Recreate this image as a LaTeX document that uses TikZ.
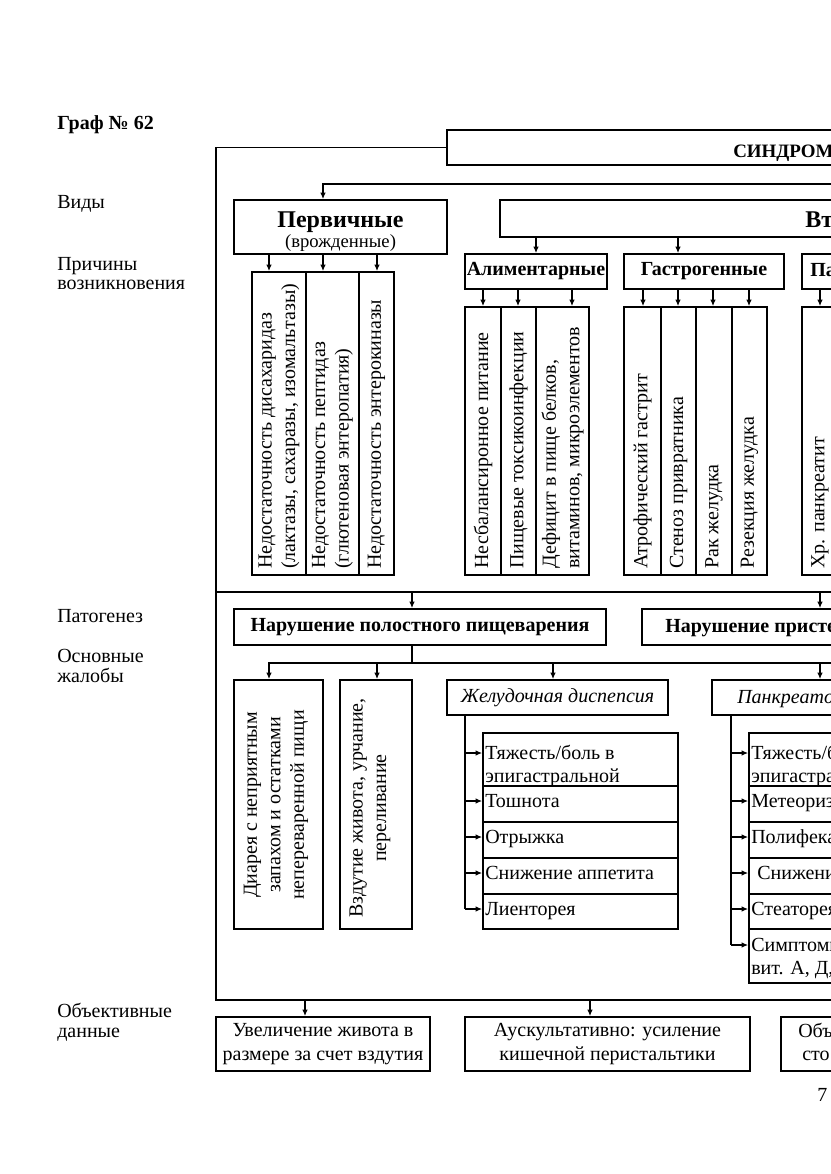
\documentclass[tikz,border=0pt]{standalone}
\usepackage{fontspec}
\setmainfont{Liberation Serif}
\usetikzlibrary{arrows.meta,fit}
\begin{document}
\begin{tikzpicture}[x=0.75pt,y=-0.75pt,
  font=\fontsize{15}{17.6}\selectfont,
  bx/.style={draw,line width=1.2pt,inner sep=0pt},
  ln/.style={line width=1.2pt},
  arr/.style={line width=1.2pt,-{Latex[length=5pt,width=4.2pt]}},
  lbl/.style={anchor=base west,inner sep=0pt},
  vt/.style={rotate=90,anchor=west,align=left,inner sep=0pt},
  vc/.style={rotate=90,anchor=center,align=center,inner sep=0pt},
  hd/.style={font=\fontsize{15}{17.6}\selectfont\bfseries,inner sep=0pt},
  hdw/.style={font=\fontsize{15}{17.6}\selectfont\bfseries,inner sep=0pt},
  big/.style={font=\fontsize{18}{20}\selectfont\bfseries,inner sep=0pt},
  itl/.style={font=\fontsize{15}{17.6}\selectfont\itshape,inner sep=0pt}
]
\useasboundingbox (0,0) rectangle (831,1174);
\clip (0,0) rectangle (831,1174);
\fill[white] (0,0) rectangle (831,1174);

% ---------- left labels ----------
\node[lbl,font=\fontsize{15}{17.6}\selectfont\bfseries] (title) at (57,129) {Граф № 62};
\node[lbl] (L1) at (57,208) {Виды};
\node[lbl] (L2a) at (57,270) {Причины};
\node[lbl] (L2b) at (57,289) {возникновения};
\node[lbl] (L3) at (57,622) {Патогенез};
\node[lbl] (L4a) at (57,662) {Основные};
\node[lbl] (L4b) at (57,682) {жалобы};
\node[lbl] (L5a) at (57,1017) {Объективные};
\node[lbl] (L5b) at (57,1037) {данные};

% ---------- top ----------
\node[bx,fit={(447,130)(1300,165)}] (S) {};
\node[anchor=base west,inner sep=0pt,font=\fontsize{14.2}{17}\selectfont\bfseries] (St) at (733,157) {СИНДРОМ};

\coordinate (fTL) at (216,148);
\coordinate (fBL) at (216,1000);
\coordinate (fBR) at (1300,1000);
\draw[ln] (S.west) -- (S.west -| fTL) -- (fBL) -- (fBR);
\coordinate (dL) at (216,592);
\coordinate (dR) at (1300,592);
\draw[ln] (dL) -- (dR);

\node[bx,fit={(234,200)(447,254)}] (P) {};
\node[big,anchor=base] (Pt1) at (340.5,227) {Первичные};
\node[inner sep=0pt,anchor=base,font=\fontsize{14}{17}\selectfont] (Pt2) at (340.5,247) {(врожденные)};

\node[bx,fit={(500,200)(1300,237)}] (V) {};
\node[big,anchor=base west] (Vt) at (805,227) {Вторичные};

\coordinate (b1) at (323,184);
\draw[arr] (S.south) |- (b1) -- (b1 |- P.north);
\draw[arr] (S.south) -- (S.south |- V.north);

% ---------- primary causes ----------
\node[bx,fit={(252,272)(306,575)}] (c1) {};
\node[bx,fit={(306,272)(359,575)}] (c2) {};
\node[bx,fit={(359,272)(394,575)}] (c3) {};
\node[vt] (c1t) at (279,569) {Недостаточность дисахаридаз\\(лактазы, сахаразы, изомальтазы)};
\node[vt] (c2t) at (332.5,569) {Недостаточность пептидаз\\(глютеновая энтеропатия)};
\node[vt] (c3t) at (376.5,569) {Недостаточность энтерокиназы};
\coordinate (ax1) at (269,0);
\coordinate (ax2) at (323,0);
\coordinate (ax3) at (377,0);
\draw[arr] (P.south -| ax1) -- (c1.north -| ax1);
\draw[arr] (P.south -| ax2) -- (c2.north -| ax2);
\draw[arr] (P.south -| ax3) -- (c3.north -| ax3);

% ---------- secondary groups ----------
\node[bx,fit={(465,254)(607,289)}] (A) {};
\node[hd] (At) at (A.center) {Алиментарные};
\node[bx,fit={(624,254)(784,289)}] (G) {};
\node[hd] (Gt) at (G.center) {Гастрогенные};
\node[bx,fit={(802,254)(1300,289)}] (Pa) {};
\node[hd,anchor=base west] (Pat) at (810,276) {Панкреатогенные};
\coordinate (gx) at (678,0);
\draw[arr] (V.south -| A.north) -- (A.north);
\draw[arr] (V.south -| gx) -- (G.north -| gx);

% alimentary columns
\node[bx,fit={(465,307)(501,575)}] (a1) {};
\node[bx,fit={(501,307)(536,575)}] (a2) {};
\node[bx,fit={(536,307)(589,575)}] (a3) {};
\node[vt] (a1t) at (483,569) {Несбалансиронное питание};
\node[vt] (a2t) at (518.5,569) {Пищевые токсикоинфекции};
\node[vt] (a3t) at (562.5,569) {Дефицит в пище белков,\\витаминов, микроэлементов};
\coordinate (ay1) at (483,0);
\coordinate (ay2) at (518,0);
\coordinate (ay3) at (572,0);
\draw[arr] (A.south -| ay1) -- (a1.north -| ay1);
\draw[arr] (A.south -| ay2) -- (a2.north -| ay2);
\draw[arr] (A.south -| ay3) -- (a3.north -| ay3);

% gastrogenic columns
\node[bx,fit={(624,307)(661,575)}] (g1) {};
\node[bx,fit={(661,307)(696,575)}] (g2) {};
\node[bx,fit={(696,307)(732,575)}] (g3) {};
\node[bx,fit={(732,307)(767,575)}] (g4) {};
\node[vt] (g1t) at (642.5,569) {Атрофический гастрит};
\node[vt] (g2t) at (678.5,569) {Стеноз привратника};
\node[vt] (g3t) at (714,569) {Рак желудка};
\node[vt] (g4t) at (749.5,569) {Резекция желудка};
\coordinate (gy1) at (643,0);
\coordinate (gy2) at (678,0);
\coordinate (gy3) at (713,0);
\coordinate (gy4) at (749,0);
\draw[arr] (G.south -| gy1) -- (g1.north -| gy1);
\draw[arr] (G.south -| gy2) -- (g2.north -| gy2);
\draw[arr] (G.south -| gy3) -- (g3.north -| gy3);
\draw[arr] (G.south -| gy4) -- (g4.north -| gy4);

% pancreatogenic columns
\node[bx,fit={(802,307)(838,575)}] (p1) {};
\node[bx,fit={(838,307)(1300,575)}] (p2) {};
\node[vt] (p1t) at (820,569) {Хр. панкреатит};
\coordinate (py1) at (820,0);
\draw[arr] (Pa.south -| py1) -- (p1.north -| py1);

% ---------- pathogenesis ----------
\node[bx,fit={(234,609)(606,645)}] (N1) {};
\node[hdw] (N1t) at (N1.center) {Нарушение полостного пищеварения};
\node[bx,fit={(642,609)(1300,645)}] (N2) {};
\node[hdw,anchor=base west] (N2t) at (665,632) {Нарушение пристеночного пищеварения};
\coordinate (d1) at (412,592);
\coordinate (d2) at (820,592);
\draw[arr] (d1) -- (d1 |- N1.north);
\draw[arr] (d2) -- (d2 |- N2.north);

% ---------- complaints ----------
\coordinate (h1) at (269,663);
\coordinate (h2) at (1300,663);
\coordinate (hN) at (412,663);
\coordinate (h3) at (377,663);
\coordinate (h4) at (553,663);
\coordinate (h5) at (820,663);
\node[bx,fit={(234,680)(323,929)}] (D) {};
\node[bx,fit={(340,680)(412,929)}] (B) {};
\node[bx,fit={(447,680)(668,715)}] (Zh) {};
\node[bx,fit={(712,680)(1300,715)}] (Pk) {};
\draw[ln] (N1.south -| hN) -- (hN);
\draw[arr] (h2) -- (h1) -- (h1 |- D.north);
\draw[arr] (h3) -- (h3 |- B.north);
\draw[arr] (h4) -- (h4 |- Zh.north);
\draw[arr] (h5) -- (h5 |- Pk.north);

\node[vc] (Dt) at (276,805) {Диарея с неприятным\\запахом и остатками\\непереваренной пищи};
\node[vc] (Bt) at (370,808) {Вздутие живота, урчание,\\переливание};
\node[itl] (Zht) at (Zh.center) {Желудочная диспепсия};
\node[itl,anchor=base west] (Pkt) at (737,703) {Панкреатогенная диспепсия};

% gastric items
\node[bx,fit={(483,733)(678,786)}] (r1) {};
\node[bx,fit={(483,786)(678,822)}] (r2) {};
\node[bx,fit={(483,822)(678,858)}] (r3) {};
\node[bx,fit={(483,858)(678,894)}] (r4) {};
\node[bx,fit={(483,894)(678,929)}] (r5) {};
\node[lbl] (r1a) at (485,759) {Тяжесть/боль в};
\node[lbl] (r1b) at (485,782) {эпигастральной};
\node[lbl] (r2t) at (485,807) {Тошнота};
\node[lbl] (r3t) at (485,843) {Отрыжка};
\node[lbl] (r4t) at (485,879) {Снижение аппетита};
\node[lbl] (r5t) at (485,915) {Лиенторея};
\coordinate (gv1) at (465,753);
\coordinate (gv2) at (465,801);
\coordinate (gv3) at (465,837);
\coordinate (gv4) at (465,873);
\coordinate (gv5) at (465,909);
\draw[ln] (Zh.south -| gv1) -- (gv5);
\draw[arr] (gv1) -- (gv1 -| r1.west);
\draw[arr] (gv2) -- (gv2 -| r2.west);
\draw[arr] (gv3) -- (gv3 -| r3.west);
\draw[arr] (gv4) -- (gv4 -| r4.west);
\draw[arr] (gv5) -- (gv5 -| r5.west);

% pancreatic items
\node[bx,fit={(749,733)(1300,786)}] (q1) {};
\node[bx,fit={(749,786)(1300,822)}] (q2) {};
\node[bx,fit={(749,822)(1300,858)}] (q3) {};
\node[bx,fit={(749,858)(1300,894)}] (q4) {};
\node[bx,fit={(749,894)(1300,929)}] (q5) {};
\node[bx,fit={(749,929)(1300,983)}] (q6) {};
\node[lbl] (q1a) at (751,759) {Тяжесть/боль в};
\node[lbl] (q1b) at (751,782) {эпигастральной};
\node[lbl] (q2t) at (751,807) {Метеоризм};
\node[lbl] (q3t) at (751,843) {Полифекалия};
\node[lbl] (q4t) at (757,879) {Снижение аппетита};
\node[lbl] (q5t) at (751,915) {Стеаторея};
\node[lbl] (q6a) at (751,951) {Симптомы};
\node[lbl] (q6b) at (751,974) {вит. А, Д,};
\coordinate (pv1) at (731,753);
\coordinate (pv2) at (731,801);
\coordinate (pv3) at (731,837);
\coordinate (pv4) at (731,873);
\coordinate (pv5) at (731,909);
\coordinate (pv6) at (731,945);
\draw[ln] (Pk.south -| pv1) -- (pv6);
\draw[arr] (pv1) -- (pv1 -| q1.west);
\draw[arr] (pv2) -- (pv2 -| q2.west);
\draw[arr] (pv3) -- (pv3 -| q3.west);
\draw[arr] (pv4) -- (pv4 -| q4.west);
\draw[arr] (pv5) -- (pv5 -| q5.west);
\draw[arr] (pv6) -- (pv6 -| q6.west);

% ---------- objective data ----------
\node[bx,fit={(216,1017)(430,1071)}] (O1) {};
\node[bx,fit={(465,1017)(750,1071)}] (O2) {};
\node[bx,fit={(781,1017)(1300,1071)}] (O3) {};
\node[align=center,inner sep=0pt] (O1t) at (O1.center) {Увеличение живота в\\размере за счет вздутия};
\node[align=center,inner sep=0pt] (O2t) at (O2.center) {Аускультативно: усиление\\кишечной перистальтики};
\node[lbl] (O3a) at (798,1037) {Объ};
\node[lbl] (O3b) at (802,1060) {сто};
\coordinate (o1) at (305,1000);
\coordinate (o2) at (590,1000);
\draw[arr] (o1) -- (o1 |- O1.north);
\draw[arr] (o2) -- (o2 |- O2.north);

\node[lbl] (pg) at (817,1101) {7};
\end{tikzpicture}
\end{document}
